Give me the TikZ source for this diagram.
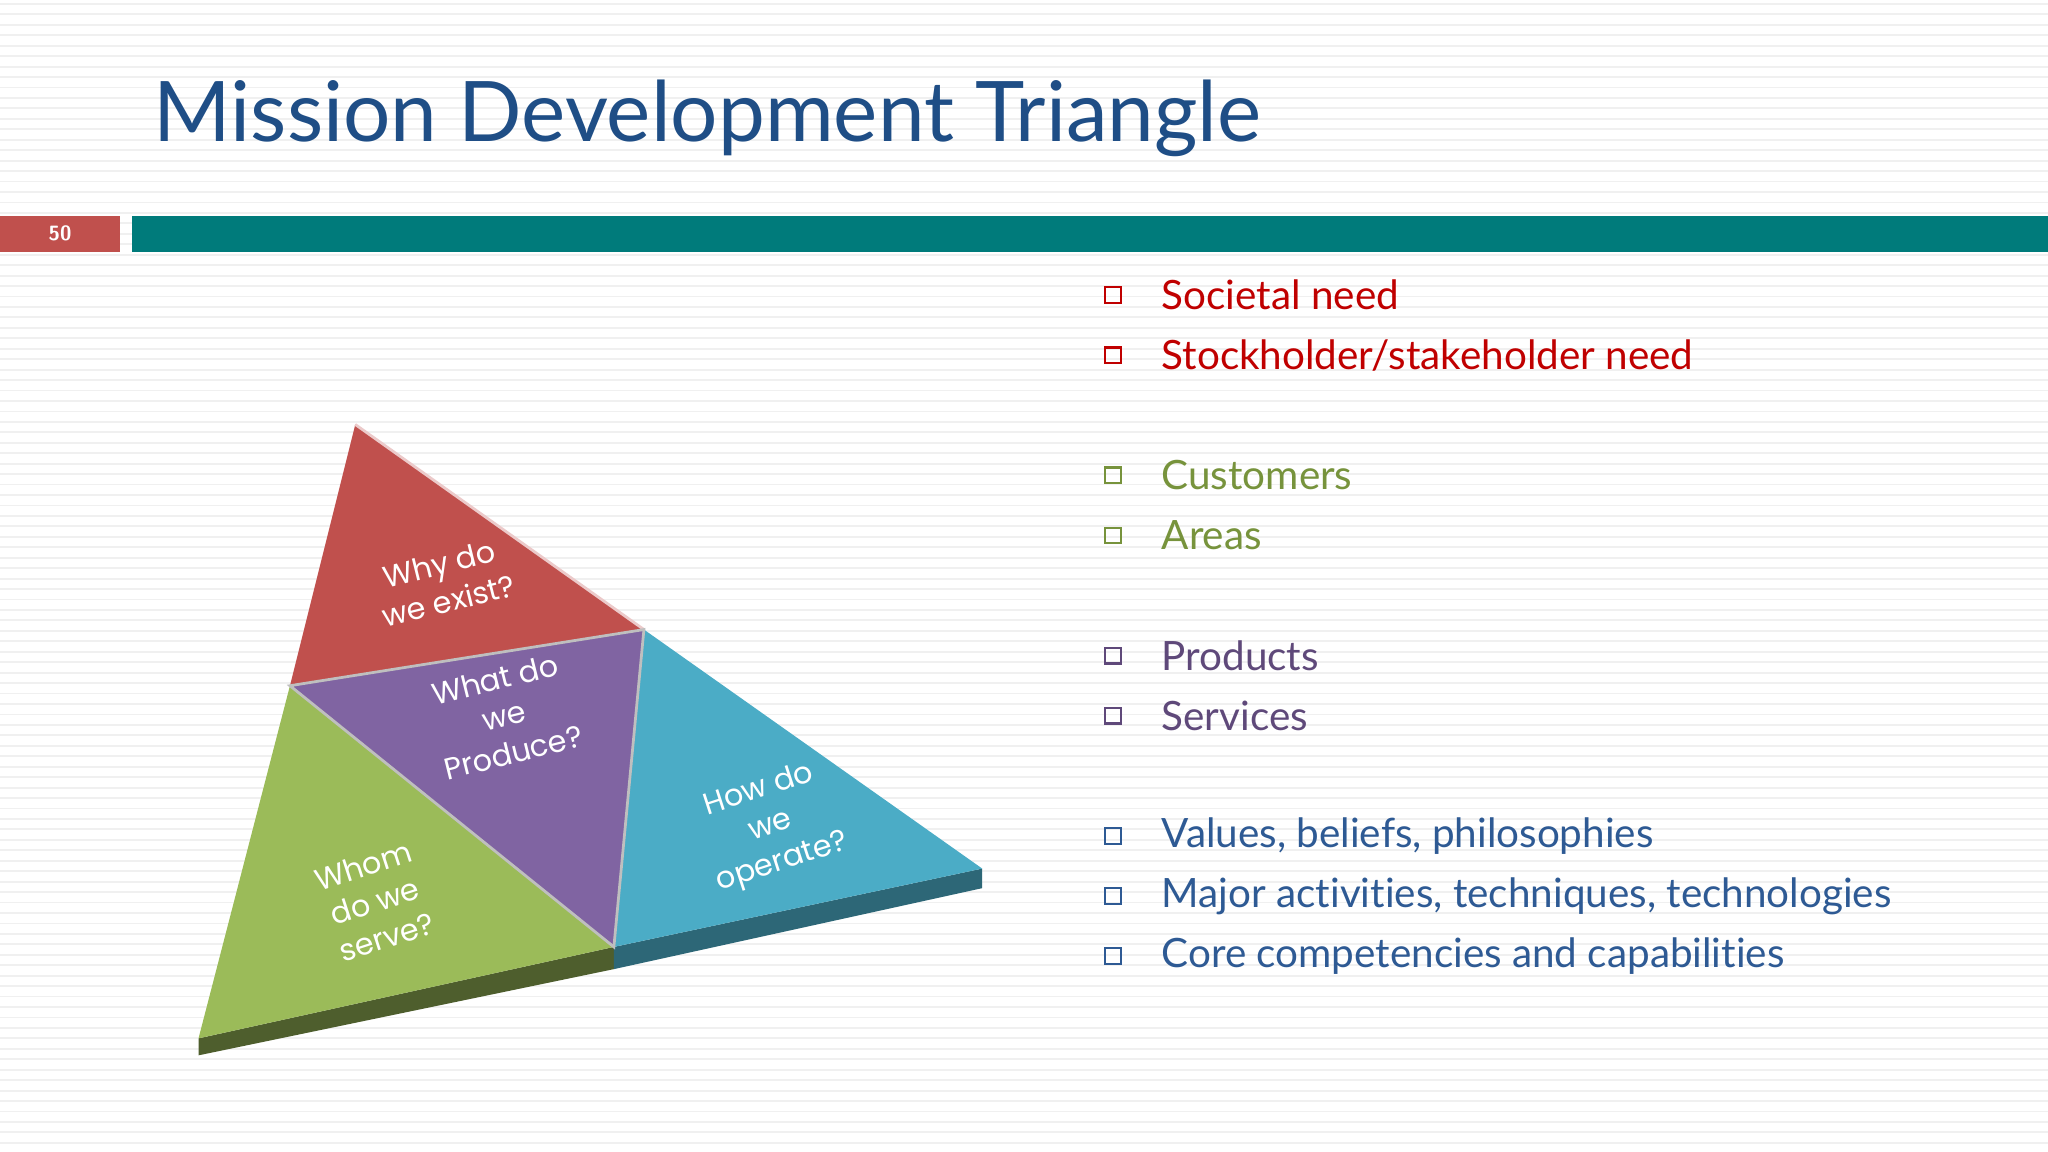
\documentclass[tikz,border=0pt]{standalone}
\usepackage{fontspec}
\setmainfont[Ligatures=NoCommon]{Lato}
\newfontfamily\labfont{Poppins}
\definecolor{ttl}{HTML}{1F4E86}
\definecolor{teal}{HTML}{007B7B}
\definecolor{rbar}{HTML}{C0504D}
\definecolor{tred}{HTML}{C0504D}
\definecolor{tpur}{HTML}{8064A2}
\definecolor{tgrn}{HTML}{9BBB59}
\definecolor{tblu}{HTML}{4BACC6}
\definecolor{bred}{HTML}{C00000}
\definecolor{bgrn}{HTML}{77933C}
\definecolor{bpur}{HTML}{5F497A}
\definecolor{bblu}{HTML}{2E5A94}
\tikzset{
 lab/.style={text=white,font=\labfont\fontsize{6.6}{8.2}\selectfont,align=center},
 bul/.style={anchor=west,font=\fontsize{8.8}{11}\selectfont},
 sq/.style={draw=#1,line width=0.5pt,minimum size=12*0.01cm,inner sep=0pt}
}
\begin{document}
\begin{tikzpicture}[x=0.01cm,y=-0.01cm]
\useasboundingbox (0,0) rectangle (1568,882);
\fill[white] (0,0) rectangle (1568,882);
\foreach \i in {0,...,110} \draw[black!6,line width=0.4pt] (0,{\i*8+3}) -- (1568,{\i*8+3});
\node[anchor=base west,text=ttl,font=\fontsize{18.2}{22}\selectfont,inner sep=0pt] (title) at (117,108) {Mission Development Triangle};
\fill[rbar] (0,165) rectangle (92,193);
\fill[teal] (101,165) rectangle (1568,193);
\node[text=white,font=\sffamily\bfseries\fontsize{4.5}{5}\selectfont] (num) at (46,179) {50};
% slab
\fill[tgrn!50!black] (152,795) -- (470,725) -- (470,742) -- (152,808) -- cycle;
\fill[tblu!60!black] (470,725) -- (752,665) -- (752,680) -- (470,742) -- cycle;
% faces
\fill[tred] (272,325) -- (493,482) -- (222,525) -- cycle;
\fill[tpur] (222,525) -- (493,482) -- (470,725) -- cycle;
\fill[tgrn] (222,525) -- (470,725) -- (152,795) -- cycle;
\fill[tblu] (493,482) -- (752,665) -- (470,725) -- cycle;
\draw[white!70!tred,line width=0.6pt] (272,325) -- (493,482);
\draw[black!25,line width=0.6pt] (222,525) -- (493,482) -- (470,725) -- cycle;
\node[lab,rotate=14] (why) at (340,446) {Why do\\we exist?};
\node[lab,rotate=14] (what) at (386,548) {What do\\we\\Produce?};
\node[lab,rotate=18] (how) at (590,633) {How do\\we\\operate?};
\node[lab,rotate=18] (whom) at (287,690) {Whom\\do we\\serve?};
% bullets
\foreach \y/\c/\t in {226/bred/{Societal need},272/bred/{Stockholder/stakeholder need},364/bgrn/{Customers},410/bgrn/{Areas},502/bpur/{Products},548/bpur/{Services},640/bblu/{Values, beliefs, philosophies},686/bblu/{Major activities, techniques, technologies},732/bblu/{Core competencies and capabilities}}{
 \node[sq=\c] at (852,\y) {};
 \node[bul,text=\c] at (877,\y) {\t};
}
\end{tikzpicture}
\end{document}
